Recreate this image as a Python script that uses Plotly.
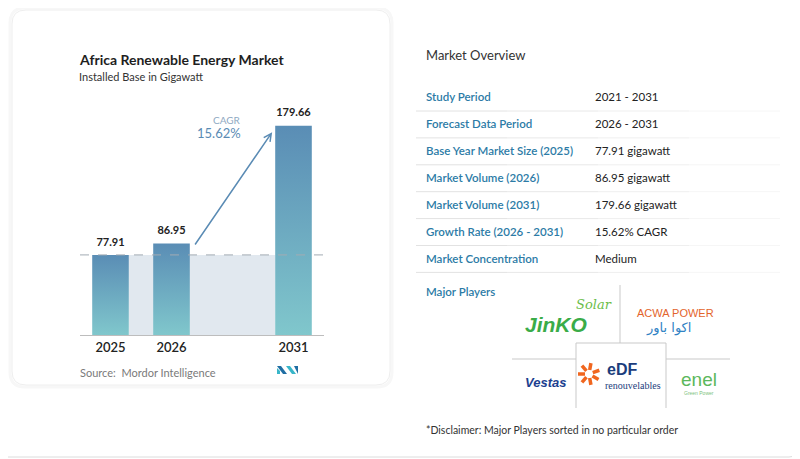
import math
import plotly.graph_objects as go

# data
years = ["2025", "2026", "2031"]
volumes = [77.91, 86.95, 179.66]
cagr_text = "15.62%"

overview_labels = ["Study Period", "Forecast Data Period", "Base Year Market Size (2025)",
                   "Market Volume (2026)", "Market Volume (2031)", "Growth Rate (2026 - 2031)",
                   "Market Concentration"]
overview_values = ["2021 - 2031", "2026 - 2031", "77.91 gigawatt", "86.95 gigawatt",
                   "179.66 gigawatt", "15.62% CAGR", "Medium"]

# the page body has an 8px margin, so the figure is sized to the visible part
# and all positions below are given in pixels of the reference picture
OFF = 8
W, H = 800 - OFF, 459 - OFF
FONT = "Lato"


def px(x):
    return (x - OFF) / W


def py(y):
    return 1 - (y - OFF) / H


def rrect(x0, y0, x1, y1, r):
    rx, ry = r / W, r / H
    a, b, c, d = px(x0), py(y0), px(x1), py(y1)
    return (f"M{a + rx},{b} L{c - rx},{b} Q{c},{b} {c},{b - ry} L{c},{d + ry} Q{c},{d} {c - rx},{d} "
            f"L{a + rx},{d} Q{a},{d} {a},{d + ry} L{a},{b - ry} Q{a},{b} {a + rx},{b} Z")


slots = [0, 1, 3]          # a gap between 2026 and 2031
half = 0.3                 # half bar width in slot units
y_floor = 14.8             # axis does not start at zero in the original

fig = go.Figure()

# bars with vertical gradient
for s, v in zip(slots, volumes):
    fig.add_trace(go.Scatter(
        x=[s - half, s + half, s + half, s - half, s - half],
        y=[y_floor, y_floor, v, v, y_floor],
        mode="lines", line=dict(width=0), fill="toself",
        fillgradient=dict(type="vertical", colorscale=[[0, "#80c7cc"], [1, "#5a8db5"]]),
        hoverinfo="skip", showlegend=False))

# value labels
fig.add_trace(go.Scatter(
    x=slots, y=volumes, mode="markers+text", text=[f"{v:.2f}" for v in volumes],
    marker=dict(size=9, opacity=0),
    textposition="top center", textfont=dict(family=FONT, size=11, color="#222", weight=700),
    hoverinfo="skip", showlegend=False))

shapes = []
# outer frame (only right and bottom edges fall inside the visible area)
rx, ry = 10 / W, 10 / H
shapes.append(dict(type="path", xref="paper", yref="paper",
                   path=(f"M{px(799)},{py(8)} L{px(799)},{py(457) + ry} "
                         f"Q{px(799)},{py(457)} {px(799) - rx},{py(457)} L{px(8)},{py(457)}"),
                   line=dict(color="#dcdcdc", width=1), layer="below"))
# left card with a faint shadow
shapes.append(dict(type="path", xref="paper", yref="paper", path=rrect(10, 8, 392, 387, 15),
                   line=dict(color="#f7f7f7", width=3), fillcolor="white", layer="below"))
shapes.append(dict(type="path", xref="paper", yref="paper", path=rrect(12, 10, 390, 385, 14),
                   line=dict(color="#eeeeee", width=1), fillcolor="white", layer="below"))

# shaded band between bars and the dashed reference line
shapes.append(dict(type="rect", xref="x", yref="y", x0=slots[0] + half, x1=slots[2] - half,
                   y0=y_floor, y1=volumes[0], fillcolor="#e1e8ef", line=dict(width=0), layer="below"))
shapes.append(dict(type="line", xref="x", yref="y", x0=-0.5, x1=3.5, y0=volumes[0], y1=volumes[0],
                   line=dict(color="#a3abb3", width=1, dash="dash")))

# table dividers (fading to the right)
row_y0, row_gap = 97, 26.9
fade = ["#e2e2e2", "#e8e8e8", "#efefef", "#f6f6f6"]
for i in range(len(overview_labels)):
    yy = row_y0 + row_gap * i + 14
    for k, col in enumerate(fade):
        shapes.append(dict(type="line", xref="paper", yref="paper",
                           x0=px(416 + k * 91), x1=px(416 + (k + 1) * 91), y0=py(yy), y1=py(yy),
                           line=dict(color=col, width=1)))

# major players grid
grid = "#c9c9c9"
for x0, y0, x1, y1 in [(620, 285, 620, 343), (512, 359, 576, 359), (666, 359, 730, 359),
                       (576, 343, 666, 343), (576, 343, 576, 408), (666, 343, 666, 408)]:
    shapes.append(dict(type="line", xref="paper", yref="paper", x0=px(x0), x1=px(x1),
                       y0=py(y0), y1=py(y1), line=dict(color=grid, width=1)))

# EDF flower
for k in range(7):
    ang = math.radians(-20 + k * 50)
    cx, cy = 589, 374
    shapes.append(dict(type="line", xref="paper", yref="paper",
                       x0=px(cx + 4 * math.cos(ang)), y0=py(cy + 4 * math.sin(ang)),
                       x1=px(cx + 11 * math.cos(ang)), y1=py(cy + 11 * math.sin(ang)),
                       line=dict(color="#f0661f", width=3.5)))

# Mordor logo
for pts, col in [([(277, 366), (281, 366), (287, 374), (283, 374)], "#1f6ea3"),
                 ([(277, 368), (280, 371), (280, 374), (277, 374)], "#38b6c9"),
                 ([(286, 366), (290, 366), (296, 374), (292, 374)], "#38b6c9"),
                 ([(294, 366), (298, 366), (298, 374)], "#1f6ea3")]:
    p = "M" + " L".join(f"{px(a)},{py(b)}" for a, b in pts) + " Z"
    shapes.append(dict(type="path", xref="paper", yref="paper", path=p,
                       fillcolor=col, line=dict(width=0)))

ann = []


def text(x, y, s, size, color, anchor="left", weight=400, family=FONT, italic=False):
    ann.append(dict(xref="paper", yref="paper", x=px(x), y=py(y), text=s, showarrow=False,
                    xanchor=anchor, yanchor="middle", borderpad=0,
                    font=dict(family=family, size=size, color=color, weight=weight,
                              style="italic" if italic else "normal")))


# left card texts
text(78, 60, "Africa Renewable Energy Market", 14, "#1e1e1e", weight=700)
text(78, 77, "Installed Base in Gigawatt", 11, "#333")
text(242, 120, "CAGR", 10, "#8fa9c2", anchor="right")
text(242, 133, cagr_text, 13, "#5a8bb4", anchor="right")
text(79, 372, "Source:  Mordor Intelligence", 11, "#7a7a7a")

# growth arrow from 2026 to 2031
ann.append(dict(xref="x", yref="y", axref="x", ayref="y",
                x=slots[2] - 0.35, y=volumes[2] - 5, ax=slots[1] + 0.37, ay=volumes[1] - 2,
                text="", showarrow=True, arrowhead=5, arrowsize=1, arrowwidth=1.5,
                arrowcolor="#5a8bb4"))

# overview table
text(425, 55, "Market Overview", 13, "#333")
for i, (lab, val) in enumerate(zip(overview_labels, overview_values)):
    yy = row_y0 + row_gap * i
    text(425, yy, lab, 11.5, "#2c7ba6", weight=600)
    text(594, yy, val, 11.5, "#222")
text(425, 291, "Major Players", 11.5, "#2c7ba6", weight=600)

# logos as text
text(556, 324, "JinKO", 21, "#3aac48", anchor="center", weight=700, family="Liberation Sans", italic=True)
text(594, 304, "Solar", 13, "#6bbd4a", anchor="center", family="DejaVu Serif", italic=True)
text(675, 313, "ACWA POWER", 11, "#e3642c", anchor="center", weight=400, family="Liberation Sans")
text(668, 328, "اكوا باور", 13, "#3182c4", anchor="center", weight=400, family="DejaVu Sans")
text(545, 382, "Vestas", 13, "#1c3f8f", anchor="center", weight=700, family="Liberation Sans", italic=True)
text(622, 369, "eDF", 16, "#1b3d7c", anchor="center", weight=800, family="Liberation Sans")
text(633, 385, "renouvelables", 10, "#1b3d7c", anchor="center", family="Liberation Sans Narrow")
text(699, 379, "enel", 19, "#5cb85c", anchor="center", family="Liberation Sans")
text(699, 393, "Green Power", 5, "#7cbf7c", anchor="center", family="Liberation Sans")

text(425, 430, "*Disclaimer: Major Players sorted in no particular order", 10.5, "#333")

fig.update_layout(
    width=W, height=H, margin=dict(l=0, r=0, t=0, b=0),
    paper_bgcolor="white", plot_bgcolor="rgba(0,0,0,0)",
    shapes=shapes, annotations=ann, showlegend=False,
    xaxis=dict(domain=[px(80), px(324)], range=[-0.5, 3.5], tickvals=slots, ticktext=years,
               showgrid=False, zeroline=False, showline=True, linecolor="#bdbdbd", linewidth=1,
               ticks="", tickfont=dict(family=FONT, size=13, color="#222", weight=600), fixedrange=True),
    yaxis=dict(domain=[py(335), py(100)], range=[y_floor, 200], visible=False, fixedrange=True),
)

fig.write_html("out.html")
